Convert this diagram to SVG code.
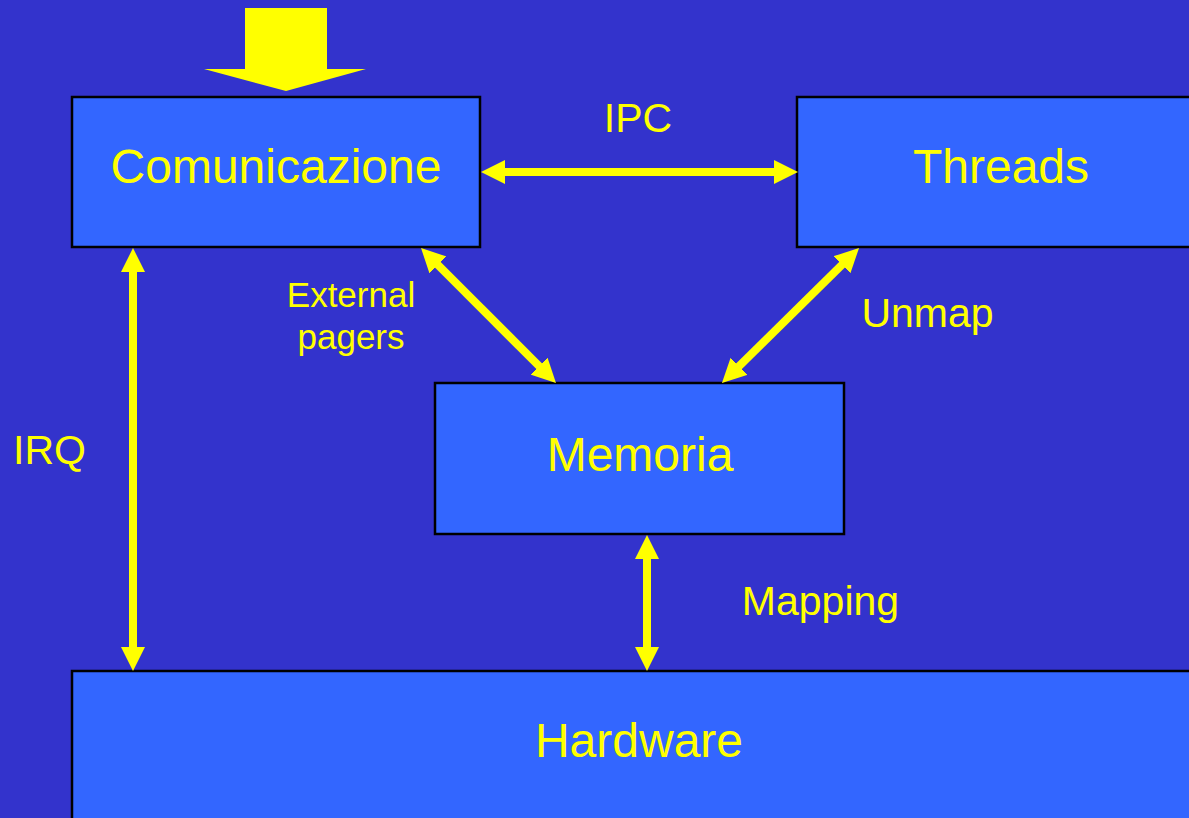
<svg xmlns="http://www.w3.org/2000/svg" width="1189" height="818" viewBox="0 0 1189 818">
  <style>
    .box { fill: #3366FF; stroke: #000000; stroke-width: 2.5; }
    .node-label { font-family: "Liberation Sans", Arial, sans-serif; font-size: 48px; fill: #FFFF00; text-anchor: middle; }
    .edge-label { font-family: "Liberation Sans", Arial, sans-serif; font-size: 41px; fill: #FFFF00; text-anchor: middle; }
    .edge-label-small { font-family: "Liberation Sans", Arial, sans-serif; font-size: 35px; fill: #FFFF00; text-anchor: middle; }
    .link { stroke: #FFFF00; stroke-width: 8; fill: none; marker-start: url(#head); marker-end: url(#head); }
  </style>
  <defs>
    <marker id="head" viewBox="0 0 24 24" refX="12" refY="12" markerWidth="24" markerHeight="24" markerUnits="userSpaceOnUse" orient="auto-start-reverse">
      <path d="M0,0 L24,12 L0,24 Z" fill="#FFFF00"/>
    </marker>
  </defs>

  <rect width="1189" height="818" fill="#3333CC"/>

  <!-- entry arrow into Comunicazione -->
  <polygon points="245,8 327,8 327,69 366,69 286,91 204,69 245,69" fill="#FFFF00"/>

  <g id="node-comunicazione">
    <rect class="box" x="72" y="97" width="408" height="150"/>
    <text class="node-label" x="276" y="183">Comunicazione</text>
  </g>
  <g id="node-threads">
    <rect class="box" x="797" y="97" width="410" height="150"/>
    <text class="node-label" x="1001" y="183">Threads</text>
  </g>
  <g id="node-memoria">
    <rect class="box" x="435" y="383" width="409" height="151"/>
    <text class="node-label" x="640" y="471">Memoria</text>
  </g>
  <g id="node-hardware">
    <rect class="box" x="72" y="671" width="1140" height="160"/>
    <text class="node-label" x="639" y="757">Hardware</text>
  </g>

  <g id="connectors">
    <line class="link" x1="493" y1="172" x2="786" y2="172"/>
    <line class="link" x1="133" y1="260" x2="133" y2="659"/>
    <line class="link" x1="647" y1="547" x2="647" y2="659"/>
    <line class="link" x1="429.5" y1="256.5" x2="547.5" y2="374.5"/>
    <line class="link" x1="850.5" y1="256.4" x2="730.5" y2="374.6"/>
    <text class="edge-label" x="638" y="132">IPC</text>
    <text class="edge-label" x="49.5" y="464">IRQ</text>
    <text class="edge-label" x="927.5" y="327">Unmap</text>
    <text class="edge-label" x="820.5" y="615">Mapping</text>
    <text class="edge-label-small" x="351" y="307">External</text>
    <text class="edge-label-small" x="351" y="349">pagers</text>
  </g>
</svg>
